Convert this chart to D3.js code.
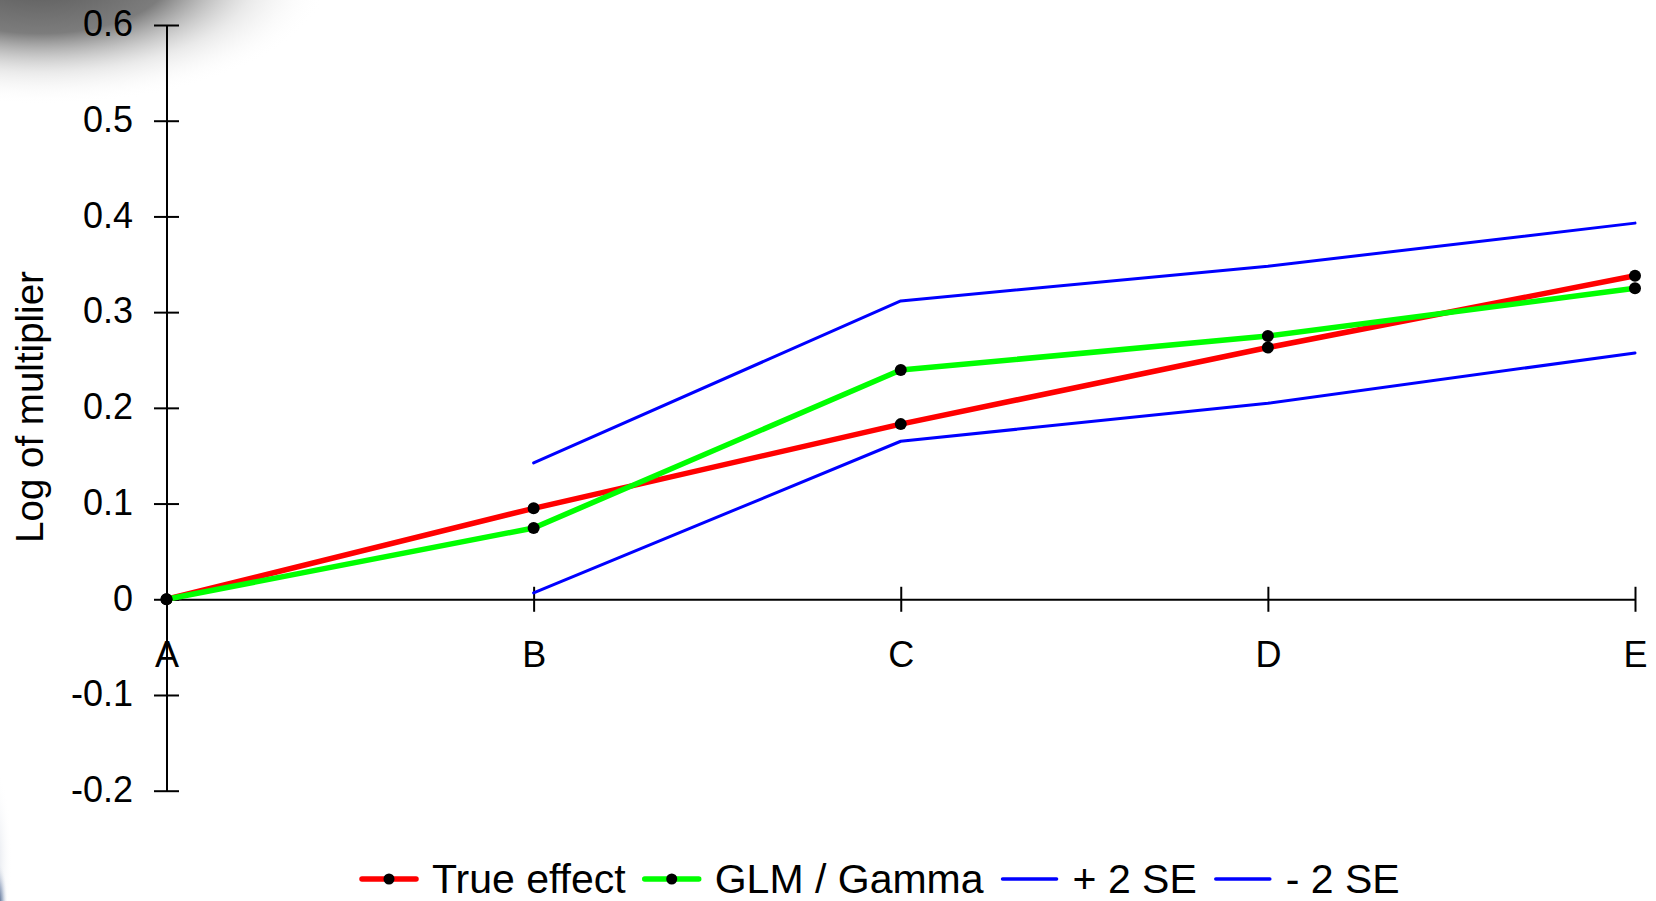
<!DOCTYPE html>
<html>
<head>
<meta charset="utf-8">
<script src="https://cdn.jsdelivr.net/npm/d3@7"></script>
<style>
  html, body { margin: 0; padding: 0; background: #fff; }
  svg { display: block; }
  text { font-family: "Liberation Sans", Arial, sans-serif; fill: #000; }
</style>
</head>
<body>
<svg id="chart" width="1656" height="901"></svg>
<script>
// Levels of the rating factor
const categories = ["A", "B", "C", "D", "E"];

// Log of multiplier per level
const trueEffect = [0, 0.095, 0.183, 0.263, 0.338];
const glmGamma   = [0, 0.0745, 0.2395, 0.275, 0.325];
const plus2SE    = [null, 0.1425, 0.3117, 0.348, 0.393];
const minus2SE   = [null, 0.0066, 0.1651, 0.2048, 0.2574];

// Axis ticks
const yTickValues = [-0.2, -0.1, 0, 0.1, 0.2, 0.3, 0.4, 0.5, 0.6];
const yTickLabels = ["-0.2", "-0.1", "0", "0.1", "0.2", "0.3", "0.4", "0.5", "0.6"];

const legendNames = ["True effect", "GLM / Gamma", "+ 2 SE", "- 2 SE"];

const svg = d3.select("#chart");

// soft page shadow in the top-left corner and a small dark edge bottom-left
const defs = svg.append("defs");
const shade = defs.append("radialGradient").attr("id", "cornerShade");
shade.append("stop").attr("offset", "0").attr("stop-color", "#555").attr("stop-opacity", 1);
shade.append("stop").attr("offset", "0.45").attr("stop-color", "#6e6e6e").attr("stop-opacity", 0.9);
shade.append("stop").attr("offset", "0.75").attr("stop-color", "#c4c4c4").attr("stop-opacity", 0.35);
shade.append("stop").attr("offset", "1").attr("stop-color", "#fff").attr("stop-opacity", 0);
svg.append("ellipse").attr("cx", 40).attr("cy", -25).attr("rx", 290).attr("ry", 130)
  .attr("fill", "url(#cornerShade)");

const glow = defs.append("radialGradient").attr("id", "edgeGlow");
glow.append("stop").attr("offset", "0").attr("stop-color", "#c8cfdc").attr("stop-opacity", 0.6);
glow.append("stop").attr("offset", "1").attr("stop-color", "#fff").attr("stop-opacity", 0);
svg.append("ellipse").attr("cx", -4).attr("cy", 860).attr("rx", 16).attr("ry", 90)
  .attr("fill", "url(#edgeGlow)");

const edge = defs.append("radialGradient").attr("id", "edgeShade");
edge.append("stop").attr("offset", "0").attr("stop-color", "#1c3766").attr("stop-opacity", 1);
edge.append("stop").attr("offset", "0.5").attr("stop-color", "#6c82a8").attr("stop-opacity", 0.5);
edge.append("stop").attr("offset", "1").attr("stop-color", "#fff").attr("stop-opacity", 0);
svg.append("ellipse").attr("cx", -2).attr("cy", 905).attr("rx", 10).attr("ry", 45)
  .attr("fill", "url(#edgeShade)");

const x = d3.scalePoint().domain(categories).range([166.5, 1635]);
const y = d3.scaleLinear().domain([-0.2, 0.6]).range([790.7, 25]);

const TICK = 12.5;

// Y axis: ticks cross the axis line
const yAxisG = svg.append("g")
  .attr("transform", `translate(${x("A")},0)`)
  .call(d3.axisLeft(y).tickValues(yTickValues).tickSizeInner(TICK).tickSizeOuter(0)
    .tickPadding(21).tickFormat((d, i) => yTickLabels[i]));
yAxisG.select(".domain").attr("stroke", "#000").attr("stroke-width", 2);
yAxisG.selectAll(".tick line").attr("x1", -TICK).attr("x2", TICK).attr("stroke", "#000").attr("stroke-width", 2);
yAxisG.selectAll(".tick text").attr("font-size", 36).attr("dy", "0.3em")
  .style("font-family", "'Liberation Sans', Arial, sans-serif");

// X axis at zero
const xAxisG = svg.append("g")
  .attr("transform", `translate(0,${y(0)})`)
  .call(d3.axisBottom(x).tickSizeInner(TICK).tickSizeOuter(0).tickPadding(30));
xAxisG.select(".domain").attr("stroke", "#000").attr("stroke-width", 2);
xAxisG.selectAll(".tick line").attr("y1", -TICK).attr("y2", TICK).attr("stroke", "#000").attr("stroke-width", 2);
xAxisG.selectAll(".tick text").attr("font-size", 36).attr("y", 68).attr("dy", 0)
  .style("font-family", "'Liberation Sans', Arial, sans-serif");

// Y axis title
svg.append("text")
  .attr("transform", `translate(43,407) rotate(-90)`)
  .attr("text-anchor", "middle")
  .attr("font-size", 38.5)
  .text("Log of multiplier");

const line = d3.line()
  .defined(d => d.v !== null)
  .x(d => x(d.c))
  .y(d => y(d.v));

const toPts = arr => categories.map((c, i) => ({ c, v: arr[i] }));

const series = [
  { name: legendNames[0], values: trueEffect, color: "#ff0000", width: 5.5, dots: true },
  { name: legendNames[1], values: glmGamma,   color: "#00ff00", width: 5.5, dots: true },
  { name: legendNames[2], values: plus2SE,    color: "#0000ff", width: 3,   dots: false },
  { name: legendNames[3], values: minus2SE,   color: "#0000ff", width: 3,   dots: false }
];

series.forEach(s => {
  svg.append("path")
    .datum(toPts(s.values))
    .attr("fill", "none")
    .attr("stroke", s.color)
    .attr("stroke-width", s.width)
    .attr("stroke-linejoin", "round")
    .attr("stroke-linecap", "round")
    .attr("d", line);
});

series.filter(s => s.dots).forEach(s => {
  svg.append("g").selectAll("circle")
    .data(toPts(s.values).filter(d => d.v !== null))
    .join("circle")
    .attr("cx", d => x(d.c))
    .attr("cy", d => y(d.v))
    .attr("r", 6)
    .attr("fill", "#000");
});

// Legend along the bottom
const legend = svg.append("g");
let lx = 362;
const ly = 879;
series.forEach(s => {
  legend.append("line")
    .attr("x1", lx).attr("x2", lx + 54)
    .attr("y1", ly).attr("y2", ly)
    .attr("stroke", s.color)
    .attr("stroke-width", s.dots ? 5.5 : 3.5)
    .attr("stroke-linecap", "round");
  if (s.dots) {
    legend.append("circle").attr("cx", lx + 27).attr("cy", ly).attr("r", 5.5).attr("fill", "#000");
  }
  const t = legend.append("text")
    .attr("x", lx + 70)
    .attr("y", 892.5)
    .attr("font-size", 41)
    .text(s.name);
  lx = lx + 70 + t.node().getComputedTextLength() + 19;
});
</script>
</body>
</html>
